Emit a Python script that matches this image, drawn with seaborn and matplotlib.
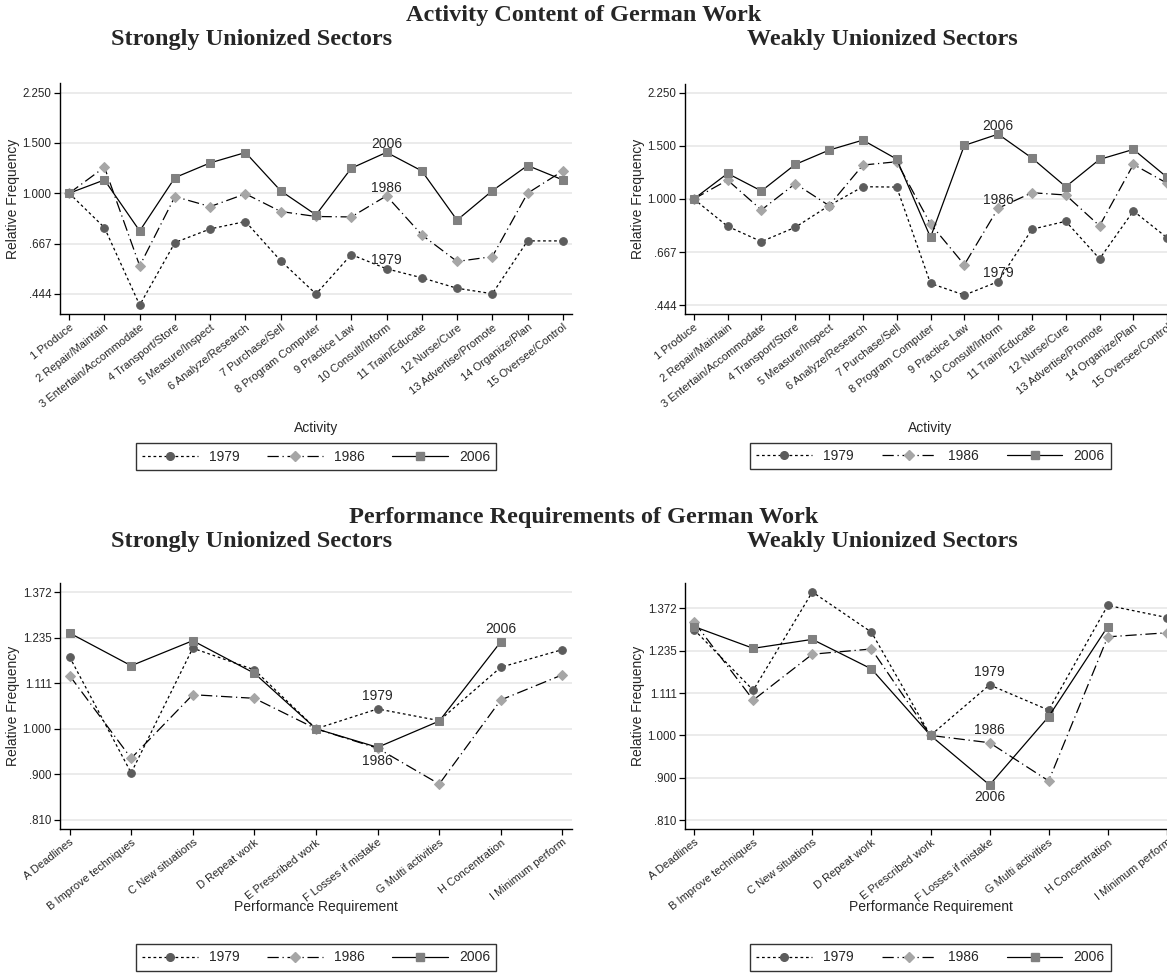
import numpy as np
import pandas as pd
import seaborn as sns
import matplotlib.pyplot as plt
from matplotlib.lines import Line2D

activities = ['1 Produce', '2 Repair/Maintain', '3 Entertain/Accommodate', '4 Transport/Store',
              '5 Measure/Inspect', '6 Analyze/Research', '7 Purchase/Sell', '8 Program Computer',
              '9 Practice Law', '10 Consult/Inform', '11 Train/Educate', '12 Nurse/Cure',
              '13 Advertise/Promote', '14 Organize/Plan', '15 Oversee/Control']
requirements = ['A Deadlines', 'B Improve techniques', 'C New situations', 'D Repeat work',
                'E Prescribed work', 'F Losses if mistake', 'G Multi activities',
                'H Concentration', 'I Minimum perform']
years = ['1979', '1986', '2006']

strong_act_1979 = [1.0, 0.758, 0.406, 0.672, 0.750, 0.796, 0.580, 0.444, 0.610, 0.544, 0.506, 0.465, 0.445, 0.681, 0.681]
strong_act_1986 = [1.0, 1.233, 0.557, 0.973, 0.898, 0.995, 0.863, 0.829, 0.826, 0.979, 0.715, 0.577, 0.600, 1.0, 1.197]
strong_act_2006 = [1.0, 1.113, 0.738, 1.134, 1.277, 1.388, 1.019, 0.840, 1.223, 1.390, 1.197, 0.805, 1.020, 1.250, 1.113]

weak_act_1979 = [1.0, 0.812, 0.723, 0.806, 0.951, 1.098, 1.095, 0.526, 0.481, 0.533, 0.794, 0.844, 0.634, 0.913, 0.744]
weak_act_1986 = [1.0, 1.155, 0.920, 1.124, 0.951, 1.295, 1.328, 0.827, 0.606, 0.932, 1.049, 1.031, 0.815, 1.301, 1.127]
weak_act_2006 = [1.0, 1.215, 1.063, 1.301, 1.451, 1.566, 1.355, 0.747, 1.504, 1.639, 1.366, 1.098, 1.352, 1.459, 1.179]

strong_req_1979 = [1.181, 0.903, 1.205, 1.146, 1.0, 1.047, 1.019, 1.153, 1.201]
strong_req_1986 = [1.131, 0.934, 1.082, 1.073, 1.0, 0.956, 0.880, 1.069, 1.133]
strong_req_2006 = [1.248, 1.157, 1.226, 1.137, 1.0, 0.958, 1.018, 1.223, np.nan]

weak_req_1979 = [1.301, 1.119, 1.429, 1.293, 1.0, 1.134, 1.065, 1.382, 1.341]
weak_req_1986 = [1.326, 1.092, 1.224, 1.240, 1.0, 0.982, 0.893, 1.278, 1.291]
weak_req_2006 = [1.311, 1.242, 1.270, 1.180, 1.0, 0.884, 1.048, 1.311, np.nan]

act_ticks = [4 / 9, 2 / 3, 1.0, 1.5, 2.25]
act_ticklabels = ['.444', '.667', '1.000', '1.500', '2.250']
req_ticks = [0.81, 0.9, 1.0, 1 / 0.9, 1 / 0.81, 1 / 0.729]
req_ticklabels = ['.810', '.900', '1.000', '1.111', '1.235', '1.372']

sns.set_theme(style='white')
plt.rcParams['font.family'] = ['Liberation Sans', 'DejaVu Sans']

styles = {
    '1979': dict(linestyle=(0, (2.2, 2.2)), marker='o', color='#5c5c5c', ms=5.5),
    '1986': dict(linestyle=(0, (9, 3, 1, 3)), marker='D', color='#a6a6a6', ms=5.5),
    '2006': dict(linestyle='-', marker='s', color='#808080', ms=5.5),
}

W, H = 1167, 975
fig = plt.figure(figsize=(W / 100, H / 100), dpi=100)


def add_ax(left, top, right, bottom):
    return fig.add_axes([left / W, 1 - bottom / H, (right - left) / W, (bottom - top) / H])


def draw_panel(ax, cats, series, ticks, ticklabels, ylim, xlabel, labels, lab_y, leg_y, xpad):
    df = pd.DataFrame({'cat': cats, **series})
    df['pos'] = np.arange(len(cats))
    for yr in years:
        st = styles[yr]
        sns.lineplot(data=df, x='pos', y=yr, ax=ax, color='black', lw=0.9,
                     linestyle=st['linestyle'], marker=st['marker'], markersize=st['ms'],
                     markerfacecolor=st['color'], markeredgecolor=st['color'], label=yr)
    ax.set_yscale('log')
    ax.set_ylim(*ylim)
    ax.set_yticks(ticks)
    ax.set_yticklabels(ticklabels, fontsize=8.3)
    ax.yaxis.set_minor_locator(plt.NullLocator())
    ax.set_xlim(-xpad, len(cats) - 1 + xpad)
    ax.set_xticks(df['pos'])
    ax.set_xticklabels(cats, rotation=38, ha='right', rotation_mode='anchor', fontsize=8)
    ax.grid(axis='y', color='#e6e6e6', lw=1.1)
    ax.grid(axis='x', visible=False)
    for s in ['top', 'right']:
        ax.spines[s].set_visible(False)
    for s in ['left', 'bottom']:
        ax.spines[s].set_color('black')
        ax.spines[s].set_linewidth(1.0)
    ax.tick_params(axis='both', direction='out', length=4, width=0.9, color='black', pad=2,
                   left=True, bottom=True)
    ax.set_ylabel('Relative Frequency', fontsize=10)
    ax.set_xlabel(xlabel, fontsize=10)
    ax.yaxis.set_label_coords(-40 / (ax.get_position().width * W), 0.5)
    ax.xaxis.set_label_coords(0.5, lab_y)
    for yr, idx, off in labels:
        ax.annotate(yr, (df['pos'][idx], df[yr][idx]), xytext=(0, off), textcoords='offset points',
                    ha='center', va='center', fontsize=10)
    handles = [Line2D([], [], color='black', lw=0.9, linestyle=styles[yr]['linestyle'],
                      marker=styles[yr]['marker'], markersize=styles[yr]['ms'],
                      markerfacecolor=styles[yr]['color'], markeredgecolor=styles[yr]['color'])
               for yr in years]
    leg = ax.legend(handles, years, loc='upper center', bbox_to_anchor=(0.5, leg_y), ncol=3,
                    fontsize=10, frameon=True, fancybox=False, handlelength=4.0,
                    columnspacing=2.0, handletextpad=0.8, borderpad=0.45, edgecolor='black')
    leg.get_frame().set_linewidth(1.0)


ax_tl = add_ax(60, 83, 572, 314)
ax_tr = add_ax(685, 84, 1176, 314)
ax_bl = add_ax(60, 583, 572, 829)
ax_br = add_ax(685, 583, 1176, 829)

draw_panel(ax_tl, activities, {'1979': strong_act_1979, '1986': strong_act_1986, '2006': strong_act_2006},
           act_ticks, act_ticklabels, (1.5 ** -2.4, 1.5 ** 2.19), 'Activity',
           [('2006', 9, 6), ('1986', 9, 6), ('1979', 9, 6)], -0.465, -0.53, 0.26)
draw_panel(ax_tr, activities, {'1979': weak_act_1979, '1986': weak_act_1986, '2006': weak_act_2006},
           act_ticks, act_ticklabels, (1.5 ** -2.16, 1.5 ** 2.16), 'Activity',
           [('2006', 9, 6), ('1986', 9, 6), ('1979', 9, 6)], -0.465, -0.53, 0.26)
draw_panel(ax_bl, requirements, {'1979': strong_req_1979, '1986': strong_req_1986, '2006': strong_req_2006},
           req_ticks, req_ticklabels, ((1 / 0.9) ** -2.2, (1 / 0.9) ** 3.2), 'Performance Requirement',
           [('1979', 5, 9), ('1986', 5, -9), ('2006', 7, 9)], -0.29, -0.44, 0.155)
draw_panel(ax_br, requirements, {'1979': weak_req_1979, '1986': weak_req_1986, '2006': weak_req_2006},
           req_ticks, req_ticklabels, ((1 / 0.9) ** -2.21, (1 / 0.9) ** 3.6), 'Performance Requirement',
           [('1979', 5, 9), ('1986', 5, 9), ('2006', 5, -9)], -0.29, -0.44, 0.155)

title_kw = dict(ha='center', va='center', fontsize=17.5, fontweight='bold', family='Liberation Serif')
fig.text(0.5, 1 - 15 / H, 'Activity Content of German Work', **title_kw)
fig.text(252 / W, 1 - 39 / H, 'Strongly Unionized Sectors', **title_kw)
fig.text(882 / W, 1 - 39 / H, 'Weakly Unionized Sectors', **title_kw)
fig.text(0.5, 1 - 517 / H, 'Performance Requirements of German Work', **title_kw)
fig.text(252 / W, 1 - 541 / H, 'Strongly Unionized Sectors', **title_kw)
fig.text(882 / W, 1 - 541 / H, 'Weakly Unionized Sectors', **title_kw)

plt.savefig('out.png', dpi=100, facecolor='white')
